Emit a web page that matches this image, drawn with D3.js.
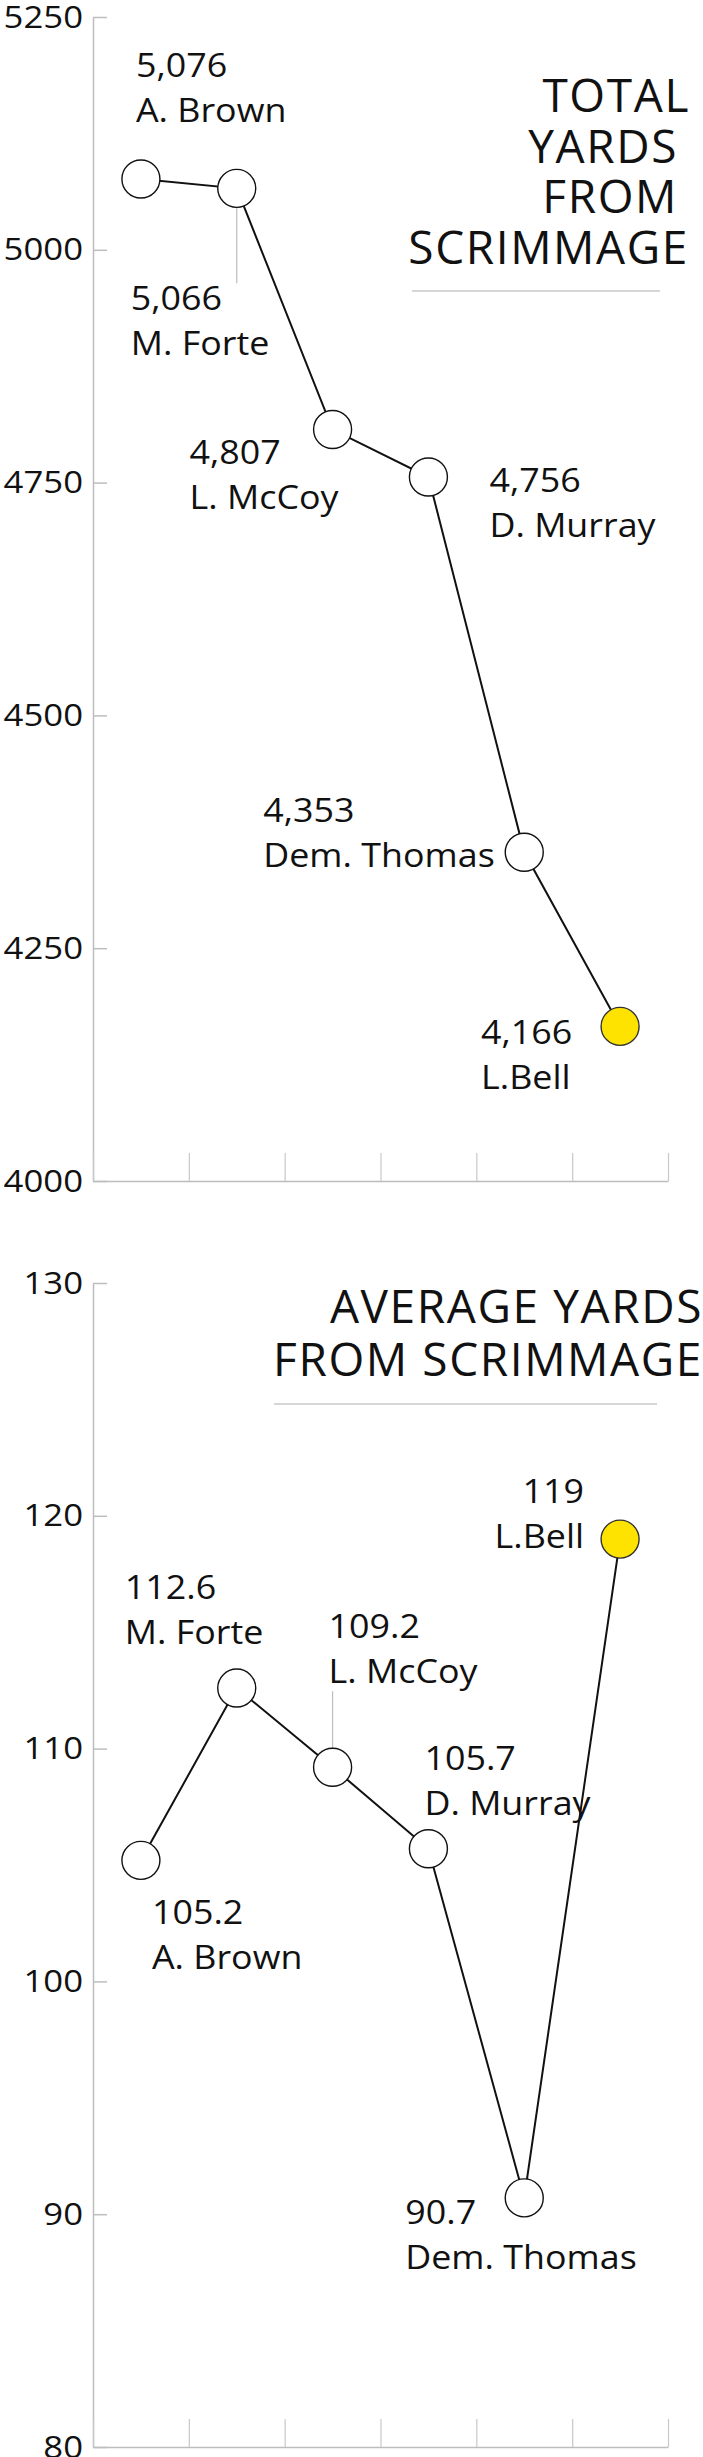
<!DOCTYPE html>
<html>
<head>
<meta charset="utf-8">
<script src="https://cdn.jsdelivr.net/npm/d3@7/dist/d3.min.js"></script>
<style>
  html, body { margin: 0; padding: 0; background: #fff; }
  svg { display: block; }
  text { font-family: "Open Sans", "Noto Sans", sans-serif; fill: #111; }
</style>
</head>
<body>
<svg id="chart" width="703" height="2457"></svg>
<script>
// ---- data ----
const players = ["A. Brown", "M. Forte", "L. McCoy", "D. Murray", "Dem. Thomas", "L.Bell"];
const totalYards = [5076, 5066, 4807, 4756, 4353, 4166];
const avgYards = [105.2, 112.6, 109.2, 105.7, 90.7, 119];
const totalTicks = [4000, 4250, 4500, 4750, 5000, 5250];
const avgTicks = [80, 90, 100, 110, 120, 130];
const totalTitle = ["TOTAL", "YARDS", "FROM", "SCRIMMAGE"];
const avgTitle = ["AVERAGE YARDS", "FROM SCRIMMAGE"];
const highlighted = "L.Bell";

// ---- layout (positions/styles only) ----
const W = 703, H = 2457;
const X0 = 93, X1 = 668;
const SX = 1.12; // horizontal stretch of label text
const topLayout = {
  top: 17, bottom: 1181,
  labels: [
    {dx: -5, dy: -102, anchor: "start"},
    {dx: -106, dy: 122, anchor: "start"},
    {dx: -143, dy: 34, anchor: "start"},
    {dx: 61, dy: 15, anchor: "start"},
    {dx: -261, dy: -30, anchor: "start"},
    {dx: -139, dy: 18, anchor: "start"}
  ],
  leaders: [{i: 1, from: 0, to: 95}],
  title: {x: [690, 678, 678, 689], y0: 112, step: 50.5, size: 46},
  rule: {x1: 412, x2: 660, y: 291}
};
const botLayout = {
  top: 1283, bottom: 2447,
  labels: [
    {dx: 11, dy: 64, anchor: "start"},
    {dx: -112, dy: -89, anchor: "start"},
    {dx: -4, dy: -129, anchor: "start"},
    {dx: -4, dy: -79, anchor: "start"},
    {dx: -119, dy: 26, anchor: "start"},
    {dx: -36, dy: -36, anchor: "end"}
  ],
  leaders: [{i: 2, from: 0, to: -76}],
  title: {x: [703, 703], y0: 1323, step: 53, size: 46},
  rule: {x1: 274, x2: 657, y: 1404}
};

const svg = d3.select("#chart");
svg.append("rect").attr("width", W).attr("height", H).attr("fill", "#fff");

const fmt = d3.format(",");

function drawChart(values, ticks, titleLines, L) {
  const g = svg.append("g");
  const x = d3.scaleBand().domain(players).range([X0, X1]);
  const y = d3.scaleLinear().domain(d3.extent(ticks)).range([L.bottom, L.top]);
  const xEdge = d3.scaleLinear().domain([0, players.length]).range([X0, X1]);
  const cx = d => x(d) + x.bandwidth() / 2;

  // y axis
  const ya = g.append("g").attr("transform", `translate(${X0},0)`)
    .call(d3.axisLeft(y).tickValues(ticks).tickSize(-14).tickSizeOuter(0).tickPadding(0).tickFormat(d3.format("d")));
  ya.select(".domain").attr("stroke", "#bdbdbd").attr("stroke-width", 1.5);
  ya.selectAll(".tick line").attr("stroke", "#bdbdbd").attr("stroke-width", 1.5);
  ya.selectAll(".tick text")
    .attr("x", null).attr("dy", null)
    .attr("transform", `translate(-10,10) scale(${SX},1)`)
    .attr("text-anchor", "end")
    .style("font-family", "'Open Sans', sans-serif")
    .style("font-size", "31px").attr("fill", "#111");

  // x axis (band edges)
  const xa = g.append("g").attr("transform", `translate(0,${L.bottom})`)
    .call(d3.axisBottom(xEdge).tickValues(d3.range(players.length + 1)).tickSize(-28).tickSizeOuter(0).tickFormat(""));
  xa.select(".domain").attr("stroke", "#bdbdbd").attr("stroke-width", 1.5);
  xa.selectAll(".tick line").attr("stroke", "#c8c8c8").attr("stroke-width", 1.2);

  // title
  titleLines.forEach((t, i) => {
    g.append("text")
      .attr("x", L.title.x[i])
      .attr("y", L.title.y0 + i * L.title.step)
      .attr("text-anchor", "end")
      .style("font-size", L.title.size + "px")
      .style("letter-spacing", "1.6px")
      .style("font-kerning", "none")
      .text(t);
  });
  g.append("line")
    .attr("x1", L.rule.x1).attr("x2", L.rule.x2)
    .attr("y1", L.rule.y).attr("y2", L.rule.y)
    .attr("stroke", "#c8c8c8").attr("stroke-width", 1.5);

  const pts = players.map((p, i) => ({p, v: values[i], i}));

  // leaders
  L.leaders.forEach(ld => {
    const d = pts[ld.i];
    g.append("line")
      .attr("x1", cx(d.p)).attr("x2", cx(d.p))
      .attr("y1", y(d.v) + ld.from).attr("y2", y(d.v) + ld.to)
      .attr("stroke", "#bdbdbd").attr("stroke-width", 1.2);
  });

  // line
  g.append("path").datum(pts)
    .attr("fill", "none").attr("stroke", "#111").attr("stroke-width", 2)
    .attr("d", d3.line().x(d => cx(d.p)).y(d => y(d.v)));

  // points
  g.selectAll("circle.pt").data(pts).join("circle")
    .attr("class", "pt")
    .attr("cx", d => cx(d.p)).attr("cy", d => y(d.v)).attr("r", 19)
    .attr("fill", d => d.p === highlighted ? "#ffe300" : "#fff")
    .attr("stroke", d => d.p === highlighted ? "#333" : "#111")
    .attr("stroke-width", 1.4);

  // labels
  pts.forEach(d => {
    const lb = L.labels[d.i];
    const t = g.append("text")
      .attr("transform", `translate(${cx(d.p) + lb.dx},${y(d.v) + lb.dy}) scale(${SX},1)`)
      .attr("text-anchor", lb.anchor)
      .style("font-size", "32px");
    t.append("tspan").attr("x", 0).attr("y", 0).text(fmt(d.v));
    t.append("tspan").attr("x", 0).attr("y", 45).text(d.p);
  });
}

drawChart(totalYards, totalTicks, totalTitle, topLayout);
drawChart(avgYards, avgTicks, avgTitle, botLayout);
</script>
</body>
</html>
